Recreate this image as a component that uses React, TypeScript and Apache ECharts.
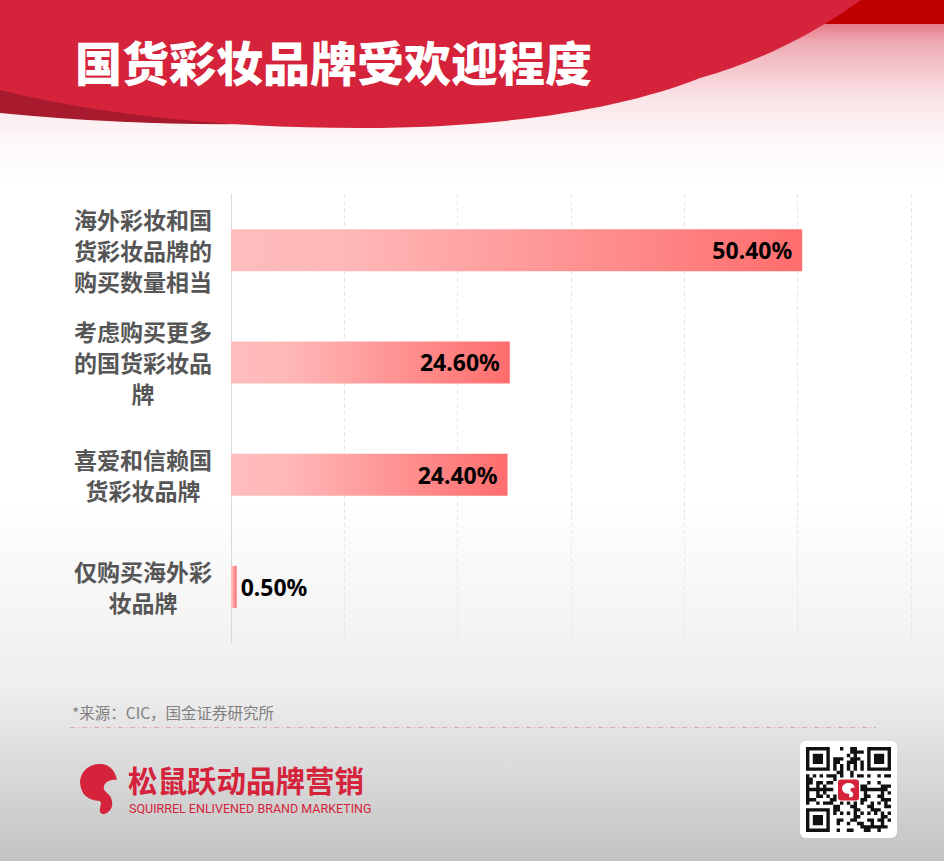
import React, { useEffect, useRef } from "react";
import * as echarts from "echarts";

const categories = [
  "海外彩妆和国货彩妆品牌的购买数量相当",
  "考虑购买更多的国货彩妆品牌",
  "喜爱和信赖国货彩妆品牌",
  "仅购买海外彩妆品牌",
];
const values = [50.4, 24.6, 24.4, 0.5];
const axisMin = 0;
const axisMax = 60;
const axisInterval = 10;
const titleText = "国货彩妆品牌受欢迎程度";
const sourceText = "*来源：CIC，国金证券研究所";
const brandCn = "松鼠跃动品牌营销";
const brandEn = "SQUIRREL ENLIVENED BRAND MARKETING";

const CJK = '"Noto Sans CJK SC", "Noto Sans", sans-serif';

function wrap(s: string, n: number) {
  const out: string[] = [];
  for (let i = 0; i < s.length; i += n) out.push(s.slice(i, i + n));
  return out.join("\n");
}

function buildQrPath(size: number, mod: number) {
  const on = (r: number, c: number) => {
    const inFinder = (r0: number, c0: number) =>
      r >= r0 && r < r0 + 7 && c >= c0 && c < c0 + 7;
    const finderCell = (r0: number, c0: number) => {
      const rr = r - r0, cc = c - c0;
      if (rr === 0 || rr === 6 || cc === 0 || cc === 6) return true;
      if (rr >= 2 && rr <= 4 && cc >= 2 && cc <= 4) return true;
      return false;
    };
    if (inFinder(0, 0)) return finderCell(0, 0);
    if (inFinder(0, size - 7)) return finderCell(0, size - 7);
    if (inFinder(size - 7, 0)) return finderCell(size - 7, 0);
    if ((r === 7 && (c < 8 || c >= size - 8)) || (c === 7 && (r < 8 || r >= size - 8))) return false;
    if (r === size - 8 && c < 8) return false;
    if (c === size - 8 && r < 8) return false;
    if (r >= 9 && r <= 15 && c >= 9 && c <= 15) return false;
    if (r === 6) return c % 2 === 0;
    if (c === 6) return r % 2 === 0;
    return (r * 37 + c * 91 + r * c * 13 + ((r ^ c) * 5)) % 7 < 3;
  };
  let d = "";
  for (let r = 0; r < size; r++) {
    for (let c = 0; c < size; c++) {
      if (on(r, c)) {
        const x = c * mod, y = r * mod;
        d += `M${x.toFixed(2)} ${y.toFixed(2)}h${mod.toFixed(2)}v${mod.toFixed(2)}h-${mod.toFixed(2)}Z`;
      }
    }
  }
  return d;
}

const squirrelD =
  "M20 0C29 0 35 6 37 16C31 15 25 18 24 22C23 25 25 27 27 29C31 32 33 37 32 42C31 46 28 49 24 50" +
  "C21 50 19 48 20 45C20 42 22 40 20 37C14 37 6 34 3 29C1 25 0 21 0 17C1 7 9 0 20 0Z";

const headerMainD =
  "M0 0L861 0C820 30 760 62 700 78C620 110 500 128 360 128C200 128 80 110 0 90Z";
const headerDarkD = "M0 80L0 113C80 121 170 125 250 124L250 80Z";

export default function App() {
  const ref = useRef<HTMLDivElement>(null);
  useEffect(() => {
    document.body.style.margin = "0";
    if (!ref.current) return;
    echarts.graphic.registerShape("headerMain", echarts.graphic.extendPath(headerMainD, {}) as any);
    echarts.graphic.registerShape("headerDark", echarts.graphic.extendPath(headerDarkD, {}) as any);
    echarts.graphic.registerShape("squirrel", echarts.graphic.extendPath(squirrelD, {}) as any);
    echarts.graphic.registerShape("qrcode", echarts.graphic.extendPath(buildQrPath(25, 3.4), {}) as any);

    const chart = echarts.init(ref.current, null, { renderer: "svg" });

    const data = values.map((v) => ({
      value: v,
      label: v < 5 ? { position: "right", distance: 4 } : { position: "insideRight", distance: 10 },
    }));

    const option: any = {
      animation: false,
      backgroundColor: "transparent",
      grid: { left: 231, right: 33, top: 194, bottom: 218, containLabel: false },
      xAxis: {
        type: "value",
        min: axisMin,
        max: axisMax,
        interval: axisInterval,
        axisLabel: { show: false },
        axisLine: { show: false },
        axisTick: { show: false },
        splitLine: { show: true, lineStyle: { color: "#e6e6e6", type: [4, 3], width: 1 } },
      },
      yAxis: {
        type: "category",
        inverse: true,
        data: categories,
        axisLine: { show: true, lineStyle: { color: "#dadada", width: 1 } },
        axisTick: { show: false },
        axisLabel: {
          formatter: (s: string) => wrap(s, 6),
          align: "center",
          margin: 88,
          color: "#565656",
          fontFamily: CJK,
          fontWeight: "bold",
          fontSize: 23,
          lineHeight: 31,
        },
      },
      series: [
        {
          type: "bar",
          data,
          barWidth: 42,
          itemStyle: {
            color: {
              type: "linear",
              x: 0, y: 0, x2: 1, y2: 0,
              colorStops: [
                { offset: 0, color: "#ffbdbd" },
                { offset: 0.2, color: "#ffb8b8" },
                { offset: 1, color: "#ff6d6d" },
              ],
            },
          },
          label: {
            show: true,
            formatter: (p: any) => p.value.toFixed(2) + "%",
            color: "#000",
            fontFamily: '"Noto Sans", sans-serif',
            fontWeight: "bold",
            fontSize: 23,
          },
          z: 3,
        },
      ],
      graphic: [
        {
          type: "rect",
          z: -100,
          silent: true,
          shape: { x: 0, y: 0, width: 944, height: 861 },
          style: {
            fill: {
              type: "linear", x: 0, y: 0, x2: 0, y2: 1,
              colorStops: [
                { offset: 0, color: "#ffffff" },
                { offset: 0.58, color: "#ffffff" },
                { offset: 0.8, color: "#eeeeee" },
                { offset: 1, color: "#c3c3c3" },
              ],
            },
          },
        },
        {
          type: "rect",
          z: -90,
          silent: true,
          shape: { x: 0, y: 24, width: 944, height: 160 },
          style: {
            fill: {
              type: "linear", x: 0, y: 0, x2: 0, y2: 1,
              colorStops: [
                { offset: 0, color: "rgba(212,35,58,0.6)" },
                { offset: 0.12, color: "rgba(212,35,58,0.38)" },
                { offset: 0.45, color: "rgba(212,35,58,0.13)" },
                { offset: 0.7, color: "rgba(212,35,58,0.04)" },
                { offset: 1, color: "rgba(212,35,58,0)" },
              ],
            },
          },
        },
        {
          type: "rect",
          z: -85,
          silent: true,
          shape: { x: 760, y: 0, width: 184, height: 24 },
          style: { fill: "#c00000" },
        },
        {
          type: "headerDark",
          z: -80,
          silent: true,
          x: 0, y: 0,
          style: { fill: "#a81b2e" },
        },
        {
          type: "headerMain",
          z: -75,
          silent: true,
          x: 0, y: 0,
          style: { fill: "#d4233a" },
        },
        {
          type: "text",
          z: 10,
          x: 75,
          y: 60,
          style: {
            text: titleText,
            fill: "#ffffff",
            font: `900 47px ${CJK}`,
            verticalAlign: "middle",
          },
        },
        {
          type: "text",
          z: 10,
          x: 72,
          y: 712,
          style: {
            text: sourceText,
            fill: "#808080",
            font: `15.5px ${CJK}`,
            verticalAlign: "middle",
          },
        },
        {
          type: "line",
          z: 10,
          silent: true,
          shape: { x1: 70, y1: 727.5, x2: 876, y2: 727.5 },
          style: { stroke: "#dfa9ab", lineWidth: 1, lineDash: [5, 3, 1, 3] },
        },
        {
          type: "squirrel",
          z: 10,
          x: 80,
          y: 764,
          style: { fill: "#d4233a" },
        },
        {
          type: "text",
          z: 10,
          x: 128,
          y: 779,
          style: {
            text: brandCn,
            fill: "#d4233a",
            font: `bold 29.5px ${CJK}`,
            verticalAlign: "middle",
          },
        },
        {
          type: "text",
          z: 10,
          x: 129,
          y: 808,
          style: {
            text: brandEn,
            fill: "#d4233a",
            font: `12.5px Roboto, sans-serif`,
            verticalAlign: "middle",
          },
        },
        {
          type: "rect",
          z: 10,
          shape: { x: 800, y: 741, width: 97, height: 97, r: 6 },
          style: { fill: "#ffffff" },
        },
        {
          type: "qrcode",
          z: 11,
          x: 806,
          y: 747,
          style: { fill: "#111111" },
        },
        {
          type: "rect",
          z: 12,
          shape: { x: 838, y: 779.5, width: 21, height: 21, r: 3 },
          style: { fill: "#d4233a" },
        },
        {
          type: "squirrel",
          z: 13,
          x: 842,
          y: 783,
          scaleX: 0.35,
          scaleY: 0.29,
          style: { fill: "#ffffff" },
        },
      ],
    };
    chart.setOption(option);
    return () => chart.dispose();
  }, []);
  return <div ref={ref} style={{ width: 944, height: 861 }} />;
}
